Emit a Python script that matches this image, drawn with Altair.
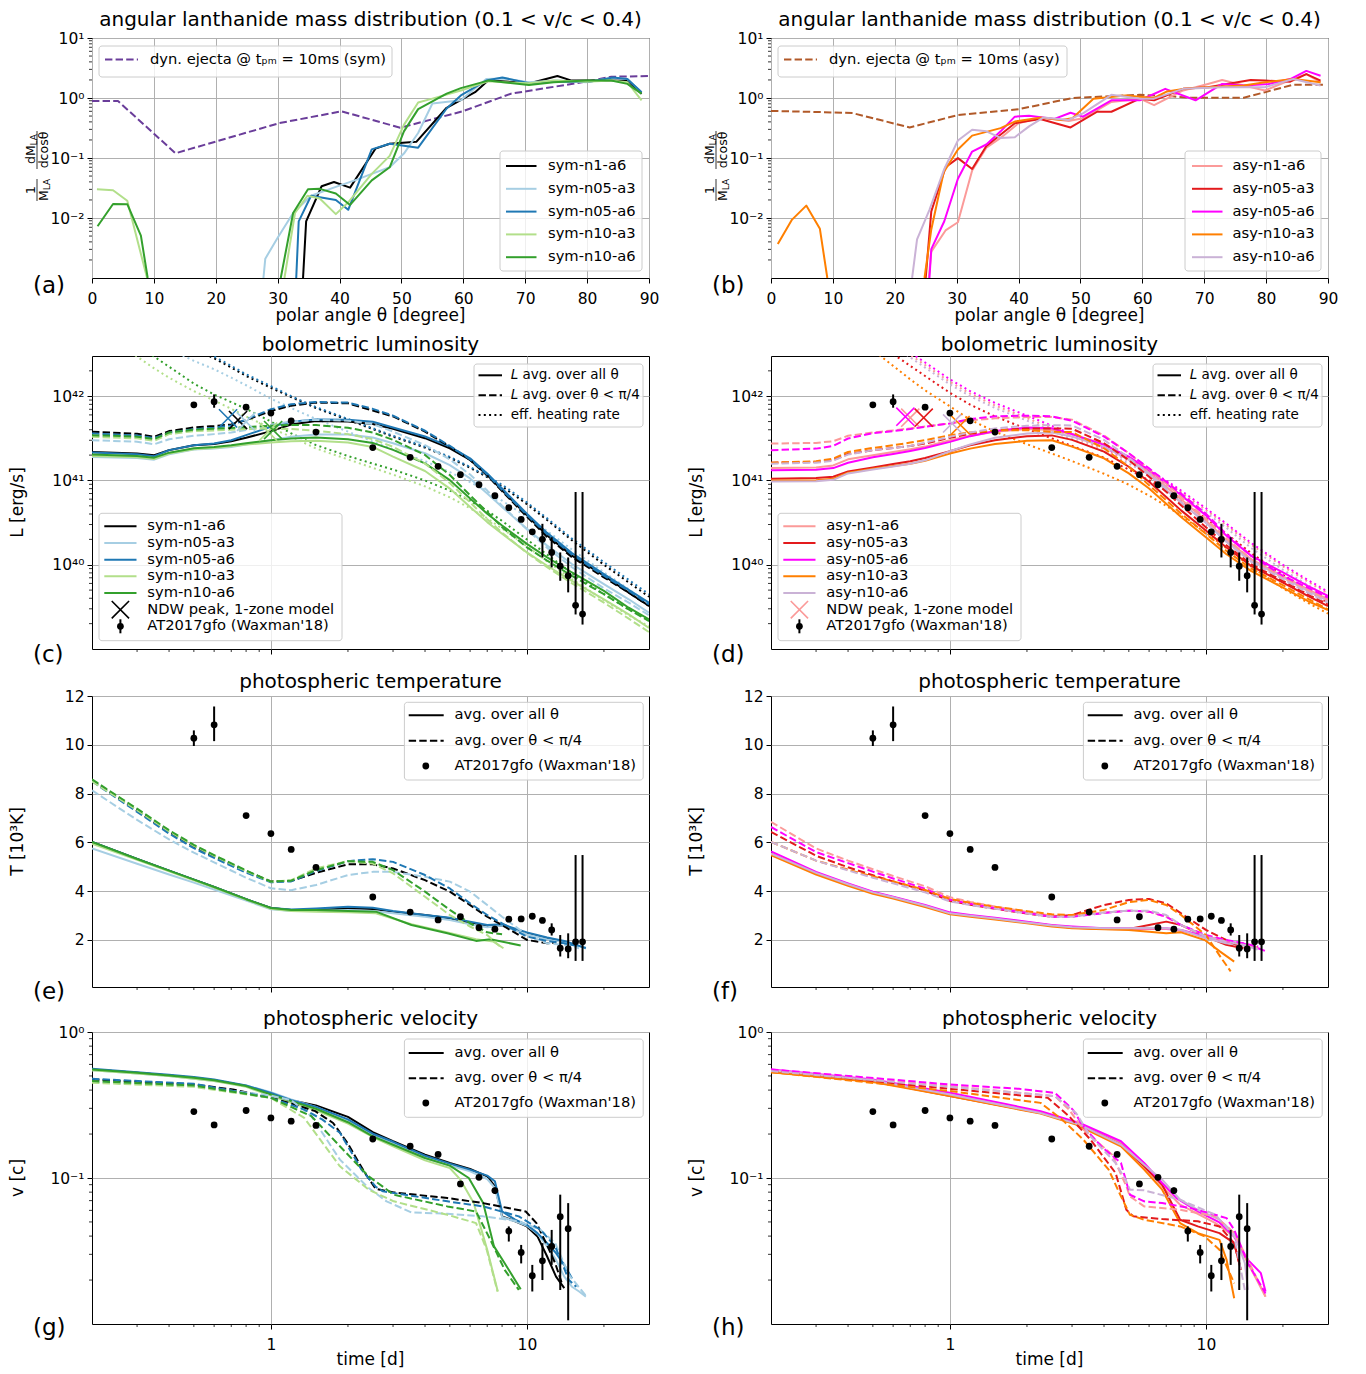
import altair as alt
import pandas as pd

FONT = "DejaVu Sans"
W = 557
HA, HC, HE, HG = 240, 293, 291, 292
DASH = [7.4, 3.2]
DOT = [2.0, 3.3]
XPATH = "M-1,-1L1,1M-1,1L1,-1"
FS_TICK, FS_LEG, FS_LAB, FS_TITLE, FS_LET = 15.5, 14.7, 17, 20, 23

SYM = ["sym-n1-a6", "sym-n05-a3", "sym-n05-a6", "sym-n10-a3", "sym-n10-a6"]
ASY = ["asy-n1-a6", "asy-n05-a3", "asy-n05-a6", "asy-n10-a3", "asy-n10-a6"]
SYM_COL = ["#000000", "#a6cee3", "#1f78b4", "#b2df8a", "#33a02c"]
ASY_COL = ["#fb9a99", "#e31a1c", "#ff00ff", "#ff7f00", "#cab2d6"]
DYN_SYM_COL = "#6a3d9a"
DYN_ASY_COL = "#b15928"

# ---------------- (a) angular distribution, sym ----------------
A_TH_DYN = [0, 4.2, 13.5, 30.2, 40.3, 49.8, 59.9, 67.7, 79.8, 83.9, 90]
A_Y_DYN = [0.89, 0.89, 0.12, 0.38, 0.60, 0.32, 0.60, 1.18, 1.87, 2.26, 2.32]
A_TH_N1A6 = [34.1, 34.6, 37.1, 39.1, 41.7, 45.8, 48.1, 52.4, 57.3, 61.9, 64.0, 70.9, 75.2, 77.5, 86.5, 88.8]
A_Y_N1A6 = [0.001, 0.0088, 0.0338, 0.0398, 0.0321, 0.143, 0.173, 0.186, 0.687, 1.25, 1.95, 1.78, 2.32, 1.95, 1.95, 1.18]
A_TH_N05A3 = [27.7, 28.0, 30.0, 32.5, 35.4, 39.4, 42.9, 45.2, 48.1, 50.4, 52.7, 55.0, 59.6, 63.7, 66.6, 70.6, 75.2, 79.8, 83.9, 86.5, 88.8]
A_Y_N05A3 = [0.001, 0.0021, 0.0047, 0.0121, 0.0235, 0.033, 0.044, 0.0544, 0.070, 0.1185, 0.261, 0.808, 0.916, 2.07, 2.12, 1.83, 1.95, 1.83, 2.15, 2.07, 1.25]
A_TH_N05A6 = [33.0, 33.4, 35.4, 39.4, 41.4, 45.2, 48.1, 52.7, 57.3, 59.6, 63.7, 66.3, 70.6, 74.6, 80.4, 84.2, 86.5, 88.8]
A_Y_N05A6 = [0.001, 0.0088, 0.0235, 0.020, 0.0137, 0.139, 0.173, 0.1485, 0.669, 1.105, 1.95, 2.20, 1.76, 1.87, 1.87, 2.20, 2.07, 1.25]
A_TH_N10A3_L = [0.8, 3.4, 5.7, 8.9]
A_Y_N10A3_L = [0.030, 0.029, 0.0194, 0.001]
A_TH_N10A3 = [31.1, 32.8, 34.8, 36.8, 39.4, 41.5, 45.2, 48.1, 50.4, 52.7, 55.0, 59.6, 64.0, 66.6, 70.6, 74.6, 79.8, 83.9, 86.5, 88.8]
A_Y_N10A3 = [0.001, 0.0121, 0.0235, 0.0212, 0.0116, 0.0187, 0.0544, 0.1085, 0.357, 0.839, 0.975, 1.335, 1.90, 1.83, 1.76, 1.95, 1.87, 1.95, 1.83, 0.916]
A_TH_N10A6_L = [0.9, 3.4, 5.7, 7.9, 9.0]
A_Y_N10A6_L = [0.0073, 0.0171, 0.0170, 0.0051, 0.001]
A_TH_N10A6 = [30.5, 32.5, 34.9, 36.8, 39.4, 41.7, 45.2, 48.1, 50.4, 52.7, 57.3, 59.6, 64.0, 70.6, 74.6, 79.8, 83.9, 86.5, 88.8]
A_Y_N10A6 = [0.001, 0.0121, 0.0302, 0.0306, 0.0256, 0.0165, 0.0423, 0.070, 0.278, 0.653, 1.18, 1.46, 1.95, 1.65, 1.83, 1.95, 1.95, 1.72, 1.18]

# ---------------- (b) angular distribution, asy ----------------
B_TH_DYN = [0, 10.0, 13.2, 22.4, 30.2, 40.0, 48.7, 59.6, 64.8, 67.7, 76.4, 79.8, 84.4, 89.4]
B_Y_DYN = [0.61, 0.575, 0.56, 0.323, 0.52, 0.65, 1.0, 1.13, 1.065, 1.01, 1.01, 1.25, 1.67, 1.67]
B_TH_N1A6 = [25.5, 25.9, 28.2, 30.2, 32.5, 34.8, 37.1, 40.0, 43.5, 48.1, 50.4, 55.0, 59.6, 61.9, 66.6, 70.6, 72.9, 76.4, 79.8, 83.9, 86.5, 88.8]
B_Y_N1A6 = [0.001, 0.00275, 0.0062, 0.0085, 0.0617, 0.1485, 0.216, 0.38, 0.471, 0.415, 0.459, 0.86, 0.975, 0.759, 1.335, 1.715, 1.994, 1.61, 1.335, 1.994, 2.50, 1.83]
B_TH_N05A3 = [25.0, 25.9, 28.2, 30.2, 32.5, 34.8, 39.4, 43.5, 48.4, 52.7, 55.0, 59.6, 61.9, 66.6, 70.6, 77.5, 79.8, 83.9, 86.5, 88.8]
B_Y_N05A3 = [0.001, 0.0129, 0.070, 0.0994, 0.0657, 0.158, 0.38, 0.448, 0.323, 0.59, 0.59, 0.975, 0.916, 1.42, 1.51, 1.99, 1.95, 1.87, 2.50, 1.95]
B_TH_N05A6 = [25.6, 25.9, 28.0, 30.2, 32.5, 34.8, 37.1, 39.4, 41.7, 45.8, 48.4, 50.4, 55.0, 59.6, 63.7, 68.6, 72.9, 76.4, 80.4, 83.9, 86.5, 88.8]
B_Y_N05A6 = [0.001, 0.00303, 0.00883, 0.045, 0.128, 0.168, 0.278, 0.489, 0.508, 0.448, 0.569, 0.489, 0.916, 0.916, 1.42, 0.916, 1.715, 1.61, 1.715, 2.07, 2.83, 2.35]
B_TH_N10A3_L = [1.1, 3.4, 5.7, 7.9, 9.1]
B_Y_N10A3_L = [0.0037, 0.0094, 0.0161, 0.0066, 0.001]
B_TH_N10A3 = [24.8, 25.9, 27.9, 30.2, 32.5, 37.1, 39.4, 43.5, 46.9, 48.7, 52.1, 57.3, 61.9, 64.0, 66.6, 70.6, 76.4, 79.8, 84.4, 88.8]
B_Y_N10A3 = [0.001, 0.00645, 0.058, 0.139, 0.236, 0.315, 0.405, 0.471, 0.431, 0.459, 0.975, 1.105, 1.0, 1.285, 1.42, 1.51, 1.61, 1.83, 2.07, 1.83]
B_TH_N10A6 = [22.8, 23.6, 25.6, 28.0, 30.2, 32.5, 34.8, 37.1, 39.4, 41.7, 44.0, 48.1, 50.4, 55.0, 59.6, 61.9, 66.6, 72.9, 79.8, 84.4, 88.8]
B_Y_N10A6 = [0.001, 0.0044, 0.0137, 0.0657, 0.196, 0.296, 0.278, 0.216, 0.222, 0.336, 0.471, 0.431, 0.554, 1.13, 0.975, 0.975, 1.42, 1.51, 1.51, 2.07, 1.61]

# ---------------- (c),(d) bolometric luminosity: log10 L [erg/s] ----------------
T_L = [0.2, 0.3, 0.35, 0.4, 0.5, 0.6, 0.7, 0.8, 1.0, 1.2, 1.5, 2, 2.5, 3, 4, 5, 6, 7, 8, 10, 12, 15, 20, 25, 30]
C_ALL_N1A6 = [41.339, 41.319, 41.299, 41.36, 41.418, 41.434, 41.466, 41.506, 41.586, 41.665, 41.705, 41.701, 41.669, 41.614, 41.502, 41.382, 41.243, 41.064, 40.884, 40.586, 40.347, 40.108, 39.869, 39.669, 39.51]
C_ALL_N05A3 = [41.279, 41.267, 41.247, 41.31, 41.367, 41.378, 41.398, 41.426, 41.478, 41.518, 41.546, 41.546, 41.51, 41.442, 41.323, 41.183, 41.024, 40.845, 40.685, 40.426, 40.227, 40.008, 39.769, 39.59, 39.43]
C_ALL_N05A6 = [41.331, 41.31, 41.287, 41.36, 41.418, 41.438, 41.478, 41.538, 41.637, 41.697, 41.725, 41.721, 41.697, 41.629, 41.522, 41.402, 41.263, 41.084, 40.904, 40.606, 40.378, 40.139, 39.888, 39.701, 39.55]
C_ALL_N10A3 = [41.291, 41.275, 41.255, 41.32, 41.371, 41.386, 41.406, 41.426, 41.45, 41.466, 41.47, 41.45, 41.398, 41.283, 41.112, 40.904, 40.685, 40.506, 40.367, 40.147, 39.988, 39.809, 39.59, 39.41, 39.25]
C_ALL_N10A6 = [41.307, 41.291, 41.271, 41.33, 41.382, 41.398, 41.418, 41.442, 41.478, 41.498, 41.51, 41.49, 41.446, 41.363, 41.203, 41.004, 40.785, 40.606, 40.466, 40.247, 40.088, 39.908, 39.689, 39.49, 39.35]
C_PI4_N1A6 = [41.578, 41.554, 41.518, 41.586, 41.629, 41.645, 41.665, 41.717, 41.825, 41.888, 41.924, 41.916, 41.83, 41.76, 41.58, 41.40, 41.243, 41.06, 40.873, 40.57, 40.33, 40.09, 39.85, 39.67, 39.51]
C_PI4_N05A3 = [41.478, 41.46, 41.43, 41.49, 41.53, 41.55, 41.57, 41.6, 41.66, 41.7, 41.72, 41.71, 41.67, 41.58, 41.42, 41.25, 41.07, 40.88, 40.7, 40.42, 40.2, 39.97, 39.72, 39.55, 39.4]
C_PI4_N05A6 = [41.558, 41.534, 41.502, 41.566, 41.61, 41.625, 41.653, 41.725, 41.845, 41.904, 41.932, 41.924, 41.85, 41.77, 41.59, 41.41, 41.25, 41.07, 40.89, 40.59, 40.36, 40.12, 39.87, 39.69, 39.53]
C_PI4_N10A3 = [41.518, 41.5, 41.47, 41.55, 41.586, 41.594, 41.602, 41.61, 41.618, 41.61, 41.59, 41.55, 41.49, 41.40, 41.2, 40.97, 40.74, 40.54, 40.38, 40.14, 39.97, 39.78, 39.55, 39.36, 39.2]
C_PI4_N10A6 = [41.538, 41.52, 41.49, 41.57, 41.602, 41.614, 41.624, 41.633, 41.65, 41.658, 41.658, 41.625, 41.57, 41.482, 41.303, 41.064, 40.825, 40.625, 40.446, 40.207, 40.048, 39.869, 39.65, 39.47, 39.33]
C_HEAT_N1A6 = [43.2, 42.9, 42.79, 42.7, 42.56, 42.45, 42.34, 42.24, 42.10, 41.99, 41.86, 41.72, 41.61, 41.52, 41.39, 41.27, 41.15, 41.04, 40.93, 40.72, 40.53, 40.29, 40.0, 39.79, 39.62]
C_HEAT_N05A3 = [43.0, 42.75, 42.64, 42.56, 42.42, 42.32, 42.22, 42.13, 41.97, 41.86, 41.73, 41.58, 41.46, 41.37, 41.23, 41.10, 40.98, 40.87, 40.76, 40.57, 40.40, 40.18, 39.91, 39.71, 39.53]
C_HEAT_N05A6 = [43.22, 42.92, 42.81, 42.72, 42.58, 42.47, 42.36, 42.26, 42.12, 42.0, 41.87, 41.73, 41.62, 41.53, 41.40, 41.28, 41.16, 41.05, 40.95, 40.74, 40.55, 40.31, 40.03, 39.82, 39.65]
C_HEAT_N10A3 = [42.85, 42.47, 42.33, 42.22, 42.06, 41.95, 41.85, 41.76, 41.62, 41.52, 41.38, 41.25, 41.15, 41.07, 40.93, 40.8, 40.67, 40.55, 40.43, 40.22, 40.04, 39.83, 39.58, 39.4, 39.27]
C_HEAT_N10A6 = [43.0, 42.62, 42.47, 42.35, 42.15, 42.02, 41.93, 41.85, 41.70, 41.56, 41.42, 41.29, 41.2, 41.13, 41.0, 40.88, 40.76, 40.64, 40.52, 40.3, 40.12, 39.9, 39.65, 39.47, 39.35]
C_NDW_T = [0.744, 0.80, 0.68, 0.975, 1.02]
C_NDW_L = [41.717, 41.697, 41.737, 41.578, 41.598]

D_ALL_N1A6 = [41.147, 41.155, 41.179, 41.251, 41.299, 41.339, 41.371, 41.402, 41.478, 41.53, 41.578, 41.61, 41.6, 41.55, 41.43, 41.27, 41.096, 40.924, 40.777, 40.526, 40.295, 40.068, 39.861, 39.709, 39.59]
D_ALL_N05A3 = [41.02, 41.028, 41.044, 41.108, 41.155, 41.195, 41.227, 41.267, 41.347, 41.418, 41.478, 41.526, 41.535, 41.482, 41.343, 41.163, 40.984, 40.805, 40.645, 40.406, 40.207, 39.988, 39.789, 39.63, 39.51]
D_ALL_N05A6 = [41.12, 41.127, 41.147, 41.211, 41.275, 41.315, 41.351, 41.386, 41.458, 41.526, 41.586, 41.63, 41.62, 41.55, 41.422, 41.283, 41.124, 40.964, 40.825, 40.586, 40.347, 40.108, 39.908, 39.749, 39.63]
D_ALL_N10A3 = [41.0, 41.004, 41.02, 41.092, 41.139, 41.171, 41.199, 41.235, 41.319, 41.378, 41.434, 41.47, 41.478, 41.402, 41.263, 41.084, 40.904, 40.725, 40.566, 40.327, 40.127, 39.928, 39.729, 39.57, 39.462]
D_ALL_N10A6 = [40.988, 40.992, 41.008, 41.084, 41.131, 41.167, 41.199, 41.239, 41.347, 41.426, 41.506, 41.558, 41.57, 41.522, 41.402, 41.243, 41.064, 40.884, 40.737, 40.498, 40.275, 40.048, 39.849, 39.689, 39.57]
D_PI4_N1A6 = [41.438, 41.446, 41.466, 41.53, 41.57, 41.594, 41.618, 41.641, 41.677, 41.713, 41.737, 41.753, 41.753, 41.721, 41.534, 41.323, 41.135, 40.964, 40.805, 40.546, 40.315, 40.068, 39.849, 39.701, 39.582]
D_PI4_N05A3 = [41.211, 41.219, 41.243, 41.315, 41.359, 41.386, 41.41, 41.438, 41.506, 41.554, 41.594, 41.618, 41.618, 41.614, 41.442, 41.243, 41.044, 40.865, 40.705, 40.446, 40.235, 40.008, 39.809, 39.649, 39.53]
D_PI4_N05A6 = [41.359, 41.378, 41.41, 41.498, 41.562, 41.586, 41.61, 41.637, 41.677, 41.729, 41.761, 41.769, 41.761, 41.709, 41.522, 41.323, 41.143, 40.984, 40.845, 40.606, 40.367, 40.108, 39.869, 39.729, 39.61]
D_PI4_N10A3 = [41.211, 41.227, 41.259, 41.339, 41.386, 41.418, 41.45, 41.478, 41.538, 41.57, 41.594, 41.598, 41.578, 41.574, 41.382, 41.163, 40.944, 40.765, 40.606, 40.367, 40.167, 39.956, 39.757, 39.598, 39.47]
D_PI4_N10A6 = [41.199, 41.211, 41.235, 41.307, 41.359, 41.386, 41.41, 41.45, 41.518, 41.57, 41.618, 41.649, 41.657, 41.653, 41.482, 41.271, 41.084, 40.904, 40.745, 40.498, 40.275, 40.036, 39.829, 39.669, 39.55]
D_HEAT_N1A6 = [43.82, 43.37, 43.19, 43.04, 42.81, 42.63, 42.49, 42.37, 42.17, 42.03, 41.89, 41.74, 41.62, 41.52, 41.37, 41.23, 41.1, 40.98, 40.86, 40.65, 40.47, 40.24, 39.98, 39.8, 39.66]
D_HEAT_N05A3 = [43.7, 43.25, 43.07, 42.92, 42.68, 42.5, 42.36, 42.24, 42.04, 41.9, 41.76, 41.61, 41.5, 41.41, 41.27, 41.13, 41.0, 40.88, 40.76, 40.55, 40.37, 40.14, 39.88, 39.7, 39.55]
D_HEAT_N05A6 = [43.85, 43.4, 43.22, 43.07, 42.84, 42.66, 42.52, 42.4, 42.2, 42.06, 41.92, 41.77, 41.65, 41.55, 41.39, 41.25, 41.12, 41.0, 40.88, 40.67, 40.49, 40.26, 40.0, 39.82, 39.68]
D_HEAT_N10A3 = [43.6, 43.15, 42.97, 42.8, 42.55, 42.36, 42.2, 42.07, 41.88, 41.72, 41.58, 41.43, 41.32, 41.23, 41.08, 40.95, 40.82, 40.70, 40.58, 40.38, 40.20, 39.98, 39.72, 39.55, 39.42]
D_HEAT_N10A6 = [43.8, 43.35, 43.17, 43.02, 42.78, 42.6, 42.46, 42.34, 42.14, 42.0, 41.86, 41.71, 41.59, 41.49, 41.34, 41.2, 41.07, 40.95, 40.83, 40.62, 40.44, 40.2, 39.94, 39.76, 39.62]
D_NDW_T = [0.70, 0.79, 0.67, 1.10, 1.02]
D_NDW_L = [41.745, 41.745, 41.757, 41.657, 41.677]

# ---------------- AT2017gfo (Waxman'18) ----------------
OBS_T = [0.5, 0.6, 0.8, 1.0, 1.2, 1.5, 2.5, 3.5, 4.5, 5.5, 6.5, 7.5, 8.5, 9.5, 10.5, 11.5, 12.5, 13.5, 14.5, 15.5, 16.5]
OBS_L = [7.9e41, 8.6e41, 7.4e41, 6.3e41, 5.1e41, 3.75e41, 2.46e41, 1.88e41, 1.47e41, 1.17e41, 8.9e40, 6.6e40, 4.75e40, 3.45e40, 2.46e40, 2.0e40, 1.4e40, 9.6e39, 7.4e39, 3.3e39, 2.6e39]
OBS_L_LO = [7.6e41, 7.3e41, 7.1e41, 6.1e41, 4.95e41, 3.65e41, 2.4e41, 1.84e41, 1.44e41, 1.14e41, 8.7e40, 6.4e40, 4.6e40, 3.3e40, 2.3e40, 1.22e40, 9.3e39, 6.45e39, 4.7e39, 2.57e39, 1.95e39]
OBS_L_HI = [8.2e41, 1.05e42, 7.7e41, 6.5e41, 5.25e41, 3.85e41, 2.52e41, 1.92e41, 1.5e41, 1.2e41, 9.1e40, 6.8e40, 4.9e40, 3.6e40, 2.6e40, 3.06e40, 2.12e40, 1.4e40, 1.22e40, 7.3e40, 7.3e40]
OBS_TK = [10.27, 10.82, 7.10, 6.36, 5.71, 4.97, 3.76, 3.14, 2.82, 2.95, 2.50, 2.44, 2.85, 2.86, 2.97, 2.80, 2.41, 1.66, 1.63, 1.92, 1.92]
OBS_TK_LO = [9.95, 10.15, 7.0, 6.28, 5.64, 4.9, 3.7, 3.08, 2.76, 2.89, 2.44, 2.38, 2.79, 2.8, 2.91, 2.74, 2.18, 1.32, 1.25, 1.14, 1.14]
OBS_TK_HI = [10.59, 11.57, 7.2, 6.44, 5.78, 5.04, 3.82, 3.2, 2.88, 3.01, 2.56, 2.5, 2.91, 2.92, 3.03, 2.86, 2.68, 2.20, 2.27, 5.48, 5.48]
OBS_TV = [0.5, 0.6, 0.8, 1.0, 1.2, 1.5, 2.5, 3.5, 4.5, 5.5, 6.5, 7.5, 8.5, 9.5, 10.5, 11.5, 12.5, 13.5, 14.5]
OBS_V = [0.285, 0.231, 0.290, 0.258, 0.245, 0.229, 0.185, 0.165, 0.145, 0.091, 0.101, 0.082, 0.0433, 0.0309, 0.0214, 0.0271, 0.034, 0.0543, 0.045]
OBS_V_LO = [0.28, 0.223, 0.285, 0.253, 0.24, 0.224, 0.178, 0.161, 0.142, 0.089, 0.099, 0.078, 0.0367, 0.026, 0.0167, 0.02, 0.0254, 0.0171, 0.0106]
OBS_V_HI = [0.29, 0.24, 0.295, 0.263, 0.25, 0.234, 0.192, 0.169, 0.148, 0.093, 0.103, 0.086, 0.0466, 0.0348, 0.0254, 0.0358, 0.0441, 0.0769, 0.0673]

# ---------------- (e) photospheric temperature, sym [10^3 K] ----------------
E_T_ALL_N1A6 = [0.2, 0.3, 0.4, 0.5, 0.6, 0.8, 1, 1.2, 1.5, 2, 2.5, 3, 4, 5, 6, 7, 8, 10, 12, 14, 15]
E_V_ALL_N1A6 = [6.02, 5.32, 4.84, 4.47, 4.17, 3.67, 3.31, 3.23, 3.23, 3.29, 3.27, 3.16, 3.02, 2.89, 2.68, 2.55, 2.59, 2.27, 2.07, 1.93, 1.82]
E_T_ALL_N05 = [0.2, 0.3, 0.4, 0.5, 0.6, 0.8, 1, 1.2, 1.5, 2, 2.5, 3, 4, 5, 6, 7, 8, 10, 12, 14, 15, 17]
E_V_ALL_N05A3 = [5.75, 5.12, 4.68, 4.35, 4.07, 3.61, 3.26, 3.19, 3.19, 3.23, 3.19, 3.09, 2.95, 2.82, 2.64, 2.52, 2.59, 2.23, 2.03, 1.90, 1.82, 1.69]
E_V_ALL_N05A6 = [6.02, 5.32, 4.84, 4.47, 4.17, 3.67, 3.31, 3.25, 3.29, 3.36, 3.32, 3.19, 3.02, 2.91, 2.75, 2.61, 2.64, 2.31, 2.10, 1.96, 1.86, 1.66]
E_T_ALL_N10A3 = [0.2, 0.3, 0.4, 0.5, 0.6, 0.8, 1, 1.2, 1.5, 2, 2.57, 3.54, 4.89, 6.33, 7.4, 8.1]
E_V_ALL_N10A3 = [5.95, 5.28, 4.81, 4.44, 4.15, 3.65, 3.28, 3.19, 3.16, 3.13, 3.09, 2.64, 2.31, 2.03, 1.93, 1.66]
E_T_ALL_N10A6 = [0.2, 0.3, 0.4, 0.5, 0.6, 0.8, 1, 1.2, 1.5, 2, 2.57, 3.54, 4.89, 6.33, 7.2, 9.46]
E_V_ALL_N10A6 = [6.02, 5.32, 4.84, 4.47, 4.17, 3.67, 3.31, 3.23, 3.23, 3.19, 3.16, 2.61, 2.27, 1.96, 2.03, 1.77]
E_T_PI4_N1A6 = [0.2, 0.3, 0.4, 0.5, 0.6, 0.8, 1, 1.2, 1.5, 2, 2.5, 3, 4, 5, 6, 7, 8, 10, 12, 13]
E_V_PI4_N1A6 = [8.54, 7.30, 6.42, 5.82, 5.42, 4.82, 4.40, 4.42, 4.75, 5.10, 5.10, 4.93, 4.45, 3.98, 3.43, 2.95, 2.61, 2.00, 1.86, 1.90]
E_T_PI4_N05 = [0.2, 0.3, 0.4, 0.5, 0.6, 0.8, 1, 1.2, 1.5, 2, 2.5, 3, 4, 5, 6, 7, 8, 10, 12, 14, 16]
E_V_PI4_N05A3 = [8.13, 6.92, 6.12, 5.58, 5.18, 4.55, 4.12, 4.04, 4.25, 4.66, 4.79, 4.79, 4.59, 4.39, 3.98, 3.43, 2.95, 2.20, 1.86, 1.80, 1.66]
E_V_PI4_N05A6 = [8.50, 7.25, 6.36, 5.76, 5.36, 4.76, 4.36, 4.40, 4.82, 5.23, 5.31, 5.20, 4.66, 4.11, 3.50, 3.02, 2.68, 2.14, 1.96, 1.86, 1.73]
E_T_PI4_N10 = [0.2, 0.3, 0.4, 0.5, 0.6, 0.8, 1, 1.2, 1.5, 2, 2.5, 3, 4, 5, 6, 7, 8]
E_V_PI4_N10A3 = [8.50, 7.32, 6.45, 5.86, 5.45, 4.82, 4.39, 4.45, 4.93, 5.23, 5.13, 4.73, 3.77, 3.02, 2.55, 2.20, 1.66]
E_V_PI4_N10A6 = [8.58, 7.38, 6.50, 5.90, 5.48, 4.85, 4.39, 4.43, 4.86, 5.23, 5.20, 4.86, 3.98, 3.23, 2.68, 2.31, 2.23]

# ---------------- (f) photospheric temperature, asy ----------------
F_T_22 = [0.2, 0.3, 0.4, 0.5, 0.6, 0.8, 1, 1.2, 1.5, 2, 2.5, 3, 4, 5, 6, 7, 8, 10, 12, 14, 16, 17]
F_T_21 = [0.2, 0.3, 0.4, 0.5, 0.6, 0.8, 1, 1.2, 1.5, 2, 2.5, 3, 4, 5, 6, 7, 8, 10, 12, 14, 16]
F_T_20 = [0.2, 0.3, 0.4, 0.5, 0.6, 0.8, 1, 1.2, 1.5, 2, 2.5, 3, 4, 5, 6, 7, 8, 10, 12, 14]
F_T_ALL_N10A3 = [0.2, 0.3, 0.4, 0.5, 0.6, 0.8, 1, 1.2, 1.5, 2, 2.5, 3, 4, 5, 6, 7, 8, 9.9, 11.3, 12.9]
F_T_PI4_N10A3 = [0.2, 0.3, 0.4, 0.5, 0.6, 0.8, 1, 1.2, 1.5, 2, 2.5, 3, 4, 5, 6, 7, 8, 10, 11.5, 12.5]
F_V_ALL_N1A6 = [5.50, 4.73, 4.25, 3.93, 3.73, 3.39, 3.09, 2.99, 2.88, 2.72, 2.59, 2.52, 2.45, 2.44, 2.45, 2.45, 2.38, 2.10, 1.90, 1.82, 1.66]
F_V_ALL_N05A3 = [5.54, 4.75, 4.28, 3.95, 3.75, 3.40, 3.09, 2.99, 2.88, 2.71, 2.59, 2.50, 2.45, 2.45, 2.61, 2.75, 2.61, 2.14, 1.80, 1.66]
F_V_ALL_N05A6 = [5.63, 4.79, 4.32, 3.98, 3.77, 3.43, 3.13, 3.02, 2.91, 2.75, 2.61, 2.55, 2.48, 2.48, 2.48, 2.48, 2.41, 2.14, 1.93, 1.86, 1.66, 1.55]
F_V_ALL_N10A3 = [5.47, 4.68, 4.22, 3.89, 3.70, 3.35, 3.05, 2.95, 2.84, 2.68, 2.55, 2.48, 2.44, 2.41, 2.34, 2.27, 2.31, 2.00, 1.54, 1.11]
F_V_ALL_N10A6 = [5.54, 4.75, 4.28, 3.95, 3.75, 3.40, 3.09, 2.99, 2.88, 2.71, 2.59, 2.52, 2.48, 2.48, 2.50, 2.48, 2.41, 2.07, 1.86, 1.77, 1.64]
F_V_PI4_N1A6 = [6.84, 5.75, 5.25, 4.90, 4.62, 4.20, 3.75, 3.56, 3.37, 3.15, 2.99, 2.99, 3.12, 3.20, 3.16, 2.95, 2.61, 2.18, 1.96, 1.82, 1.69]
F_V_PI4_N05A3 = [6.43, 5.45, 4.98, 4.65, 4.40, 4.02, 3.60, 3.44, 3.28, 3.08, 2.95, 3.02, 3.43, 3.64, 3.68, 3.50, 3.09, 2.41, 2.00, 1.66]
F_V_PI4_N05A6 = [6.63, 5.60, 5.15, 4.80, 4.52, 4.10, 3.65, 3.48, 3.30, 3.10, 2.95, 2.95, 3.10, 3.20, 3.16, 2.95, 2.61, 2.20, 2.00, 1.86, 1.73]
F_V_PI4_N10A3 = [6.02, 5.25, 4.88, 4.60, 4.40, 4.05, 3.68, 3.52, 3.36, 3.18, 3.05, 3.02, 3.23, 3.55, 3.64, 3.43, 3.02, 2.20, 1.25, 0.71]
F_V_PI4_N10A6 = [6.02, 5.25, 4.85, 4.55, 4.32, 3.95, 3.58, 3.43, 3.28, 3.08, 2.95, 2.95, 3.12, 3.20, 3.20, 3.02, 2.61, 2.14, 1.93, 1.80, 1.60]

# ---------------- (g) photospheric velocity, sym [c] ----------------
G_T_ALL_N1A6 = [0.2, 0.3, 0.4, 0.5, 0.6, 0.8, 1, 1.2, 1.5, 2, 2.5, 3, 4, 5, 6, 7, 7.5, 8, 9, 10, 11, 12, 13, 14]
G_V_ALL_N1A6 = [0.554, 0.526, 0.504, 0.486, 0.468, 0.426, 0.379, 0.341, 0.314, 0.262, 0.206, 0.1785, 0.1445, 0.1267, 0.1153, 0.1026, 0.0877, 0.0546, 0.0505, 0.0466, 0.0398, 0.029, 0.0211, 0.0176]
G_T_ALL_N05A6 = [0.2, 0.3, 0.4, 0.5, 0.6, 0.8, 1, 1.2, 1.5, 2, 2.5, 3, 4, 5, 6, 7, 7.5, 8, 9, 10, 11, 12, 13, 14, 15]
G_V_ALL_N05A6 = [0.560, 0.531, 0.509, 0.491, 0.473, 0.430, 0.383, 0.341, 0.307, 0.252, 0.201, 0.177, 0.142, 0.1254, 0.1141, 0.1038, 0.0949, 0.0590, 0.0518, 0.0478, 0.0419, 0.0358, 0.0306, 0.0254, 0.0206]
G_T_ALL_N05A3 = [0.2, 0.3, 0.4, 0.5, 0.6, 0.8, 1, 1.2, 1.5, 2, 2.5, 3, 4, 5, 6, 7, 7.5, 8, 9, 10, 11, 12, 13, 14, 15, 16, 17]
G_V_ALL_N05A3 = [0.548, 0.520, 0.499, 0.478, 0.461, 0.430, 0.387, 0.345, 0.307, 0.249, 0.195, 0.172, 0.137, 0.1215, 0.1111, 0.0984, 0.0854, 0.0540, 0.0505, 0.0471, 0.0415, 0.0340, 0.0275, 0.0211, 0.0180, 0.0167, 0.0154]
G_T_ALL_N10A6 = [0.2, 0.3, 0.4, 0.5, 0.6, 0.8, 1, 1.2, 1.5, 2, 2.5, 3, 4, 5, 5.93, 6.75, 7.44, 8.19, 9.46]
G_V_ALL_N10A6 = [0.554, 0.526, 0.504, 0.486, 0.468, 0.426, 0.373, 0.336, 0.298, 0.241, 0.193, 0.169, 0.137, 0.1215, 0.100, 0.0673, 0.0340, 0.0261, 0.0173]
G_T_ALL_N10A3 = [0.2, 0.3, 0.4, 0.5, 0.6, 0.8, 1, 1.2, 1.5, 2, 2.5, 3, 4, 5, 5.5, 6.2, 7.0, 7.7]
G_V_ALL_N10A3 = [0.548, 0.520, 0.499, 0.478, 0.461, 0.421, 0.367, 0.327, 0.291, 0.236, 0.191, 0.165, 0.132, 0.1171, 0.0974, 0.0673, 0.0322, 0.0167]
G_T_PI4_N1A6 = [0.2, 0.5, 0.71, 1, 1.2, 1.49, 1.75, 1.99, 2.33, 2.57, 3.02, 4.89, 6.75, 9.9, 10.9, 12.05, 12.9, 13.7]
G_V_PI4_N1A6 = [0.473, 0.437, 0.404, 0.354, 0.324, 0.287, 0.238, 0.174, 0.1082, 0.0841, 0.0797, 0.0729, 0.0673, 0.0590, 0.0491, 0.0340, 0.0261, 0.0190]
G_T_PI4_N05A6 = [0.2, 0.5, 1, 1.35, 1.585, 1.86, 2.26, 2.57, 2.74, 4.89, 6.75, 9.3, 11.3, 12.9, 14.6, 15.6]
G_V_PI4_N05A6 = [0.478, 0.442, 0.354, 0.294, 0.252, 0.204, 0.1141, 0.0868, 0.0810, 0.0692, 0.0639, 0.0546, 0.0442, 0.0340, 0.0200, 0.0180]
G_T_PI4_N05A3 = [0.2, 0.5, 1, 1.2, 1.44, 1.86, 2.41, 2.83, 3.54, 4.89, 6.75, 9.3, 11.3, 12.9, 14.6, 17.1]
G_V_PI4_N05A3 = [0.454, 0.426, 0.367, 0.341, 0.265, 0.1336, 0.0854, 0.0692, 0.0581, 0.0569, 0.0546, 0.0505, 0.0442, 0.0358, 0.0217, 0.0154]
G_T_PI4_N10A6 = [0.2, 0.5, 1, 1.44, 1.86, 2.41, 3.02, 4.89, 6.33, 7.2, 8.19, 9.3]
G_V_PI4_N10A6 = [0.461, 0.430, 0.354, 0.265, 0.165, 0.1026, 0.0768, 0.0639, 0.0590, 0.0377, 0.0235, 0.0171]
G_T_PI4_N10A3 = [0.2, 0.5, 1, 1.35, 1.86, 2.41, 3.02, 4.89, 6.33, 6.97, 7.68]
G_V_PI4_N10A3 = [0.449, 0.421, 0.354, 0.258, 0.1202, 0.0832, 0.0692, 0.0560, 0.0491, 0.0322, 0.0167]

# ---------------- (h) photospheric velocity, asy ----------------
H_T_ALL_N1A6 = [0.2, 0.5, 1, 2.26, 3.21, 4.66, 6.75, 7.93, 10.9, 12.9, 14.6, 17.1]
H_V_ALL_N1A6 = [0.545, 0.466, 0.373, 0.283, 0.235, 0.174, 0.0877, 0.0656, 0.0491, 0.0398, 0.0261, 0.0154]
H_T_ALL_N05A3 = [0.2, 0.5, 1, 2.26, 3.11, 4.66, 5.74, 6.75, 7.93, 9.3, 11.3, 12.9, 13.7]
H_V_ALL_N05A3 = [0.540, 0.461, 0.364, 0.279, 0.238, 0.169, 0.1202, 0.0900, 0.0518, 0.0466, 0.0419, 0.0358, 0.0235]
H_T_ALL_N05A6 = [0.2, 0.5, 1, 2.26, 3.21, 4.66, 5.74, 6.75, 7.68, 9.3, 11.3, 12.9, 14.6, 16.4, 17.1]
H_V_ALL_N05A6 = [0.554, 0.473, 0.383, 0.287, 0.238, 0.1785, 0.1267, 0.0924, 0.0729, 0.0590, 0.0496, 0.0398, 0.0275, 0.0223, 0.0167]
H_T_ALL_N10A3 = [0.2, 0.5, 1, 2.26, 3.11, 4.66, 5.74, 6.75, 7.93, 9.3, 11.3, 12.05, 12.9]
H_V_ALL_N10A3 = [0.531, 0.454, 0.364, 0.276, 0.232, 0.165, 0.1141, 0.0832, 0.0491, 0.0419, 0.0377, 0.0275, 0.0150]
H_T_ALL_N10A6 = [0.2, 0.5, 1, 2.26, 3.21, 4.66, 5.74, 6.75, 7.93, 9.3, 11.3, 12.9, 14.2, 14.6]
H_V_ALL_N10A6 = [0.548, 0.468, 0.373, 0.279, 0.232, 0.169, 0.1234, 0.0974, 0.0710, 0.0606, 0.0518, 0.0419, 0.0261, 0.0171]
H_T_PI4_N1A6 = [0.2, 1, 2.57, 2.92, 3.32, 4.30, 4.89, 5.05, 5.74, 7.93, 10.9, 12.9, 14.6, 17.1]
H_V_PI4_N1A6 = [0.548, 0.426, 0.364, 0.294, 0.2147, 0.1445, 0.0877, 0.0748, 0.0639, 0.0606, 0.0546, 0.0419, 0.0275, 0.0154]
H_T_PI4_N05A3 = [0.2, 1, 2.41, 2.92, 3.54, 4.44, 4.89, 5.21, 6.75, 9.3, 11.3, 12.9, 13.7]
H_V_PI4_N05A3 = [0.540, 0.408, 0.354, 0.265, 0.1833, 0.1082, 0.0606, 0.0546, 0.0523, 0.0505, 0.0466, 0.0358, 0.0235]
H_T_PI4_N05A6 = [0.2, 1, 1.86, 2.57, 3.02, 3.32, 3.9, 4.66, 5.05, 5.74, 6.75, 8.74, 10.3, 12.05, 12.9, 14.6, 17.1]
H_V_PI4_N05A6 = [0.554, 0.437, 0.408, 0.383, 0.294, 0.226, 0.165, 0.1267, 0.0768, 0.0692, 0.0673, 0.0622, 0.0575, 0.0531, 0.0442, 0.0261, 0.0162]
H_T_PI4_N10A3 = [0.2, 1, 2.26, 2.74, 3.32, 4.17, 4.66, 5.05, 5.74, 7.93, 9.9, 11.3, 12.9]
H_V_PI4_N10A3 = [0.531, 0.394, 0.327, 0.252, 0.1833, 0.1141, 0.0748, 0.0560, 0.0518, 0.0466, 0.0398, 0.0322, 0.0190]
H_T_PI4_N10A6 = [0.2, 1, 2.57, 3.11, 3.54, 4.44, 4.89, 5.05, 5.74, 7.93, 10.9, 12.9, 14.2]
H_V_PI4_N10A6 = [0.540, 0.421, 0.364, 0.279, 0.193, 0.1267, 0.0949, 0.0832, 0.0823, 0.0710, 0.0560, 0.0398, 0.0171]

# tick positions
ANG_TICKS = [0, 10, 20, 30, 40, 50, 60, 70, 80, 90]
FRAC_TICKS = [0.01, 0.1, 1, 10]
FRAC_MINOR = [2e-3, 3e-3, 4e-3, 5e-3, 6e-3, 7e-3, 8e-3, 9e-3, 0.02, 0.03, 0.04, 0.05, 0.06, 0.07, 0.08, 0.09,
              0.2, 0.3, 0.4, 0.5, 0.6, 0.7, 0.8, 0.9, 2, 3, 4, 5, 6, 7, 8, 9]
TIME_TICKS = [1, 10]
TIME_MINOR = [0.3, 0.4, 0.5, 0.6, 0.7, 0.8, 0.9, 2, 3, 4, 5, 6, 7, 8, 9, 20]
L_TICKS = [1e40, 1e41, 1e42]
L_MINOR = [2e39, 3e39, 4e39, 5e39, 6e39, 7e39, 8e39, 9e39, 2e40, 3e40, 4e40, 5e40, 6e40, 7e40, 8e40, 9e40,
           2e41, 3e41, 4e41, 5e41, 6e41, 7e41, 8e41, 9e41, 2e42]
T_TICKS = [2, 4, 6, 8, 10, 12]
V_TICKS = [0.1, 1]
V_MINOR = [0.02, 0.03, 0.04, 0.05, 0.06, 0.07, 0.08, 0.09, 0.2, 0.3, 0.4, 0.5, 0.6, 0.7, 0.8, 0.9]

# ---------------- helpers ----------------
ONE = pd.DataFrame({"k": [0]})


def mkaxis(values, labels=True, expr=None, pad=3):
    kw = dict(values=values, grid=True, gridColor="#b0b0b0", gridWidth=1, gridOpacity=1, domain=False,
              ticks=True, tickColor="black", tickSize=5, tickWidth=1, labels=labels, labelFont=FONT,
              labelFontSize=FS_TICK, labelColor="black", labelPadding=pad, title=None, labelFlush=False,
              labelOverlap=False, labelBound=False)
    if expr:
        kw["labelExpr"] = expr
    return alt.Axis(**kw)


SC_ANG = alt.Scale(domain=[0, 90], nice=False, zero=False)
SC_FRAC = alt.Scale(type="log", domain=[1e-3, 10], nice=False)
SC_T = alt.Scale(type="log", domain=[0.2, 30], nice=False)
SC_L = alt.Scale(type="log", domain=[1e39, 3e42], nice=False)
SC_TK = alt.Scale(domain=[0.07, 12], nice=False, zero=False)
SC_V = alt.Scale(type="log", domain=[0.01, 1], nice=False)

AX_ANG = mkaxis(ANG_TICKS, pad=8)
AX_FRAC = mkaxis(FRAC_TICKS, expr="datum.value > 5 ? '10¹' : datum.value > 0.5 ? '10⁰' : datum.value > 0.05 ? '10⁻¹' : '10⁻²'")
AX_T_NOLAB = mkaxis(TIME_TICKS, labels=False)
AX_T_LAB = mkaxis(TIME_TICKS, expr="datum.value < 5 ? '1' : '10'", pad=8)
AX_L = mkaxis(L_TICKS, expr="datum.value > 5e41 ? '10⁴²' : datum.value > 5e40 ? '10⁴¹' : '10⁴⁰'")
AX_TK = mkaxis(T_TICKS)
AX_V = mkaxis(V_TICKS, expr="datum.value > 0.5 ? '10⁰' : '10⁻¹'")


def enc(kind, sc, ax_):
    def f(name):
        if kind == "x":
            return alt.X(name + ":Q", scale=sc, axis=ax_)
        return alt.Y(name + ":Q", scale=sc, axis=ax_)
    return f


def long_table(entries, log=False):
    rows = []
    for key, col, xs, ys in entries:
        assert len(xs) == len(ys), key
        for i, (a, b) in enumerate(zip(xs, ys)):
            rows.append({"x": a, "y": (10 ** b) if log else b, "seg": key, "col": col, "i": i})
    return pd.DataFrame(rows)


def line_layer(df, X, Y, dash=None, width=2.0):
    kw = dict(clip=True, strokeWidth=width, strokeCap="butt", strokeJoin="round")
    if dash:
        kw["strokeDash"] = dash
    return alt.Chart(df).mark_line(**kw).encode(
        x=X("x"), y=Y("y"), color=alt.Color("col:N", scale=None), detail="seg:N", order="i:Q")


def obs_layers(X, Y, t, v, lo, hi):
    df = pd.DataFrame({"x": t, "y": v, "lo": lo, "hi": hi})
    bars = alt.Chart(df).mark_rule(color="black", strokeWidth=2, clip=True).encode(
        x=X("x"), y=Y("lo"), y2=alt.Y2("hi"))
    pts = alt.Chart(df).mark_circle(color="black", size=46, opacity=1, clip=True).encode(x=X("x"), y=Y("y"))
    return [bars, pts]


def xminor(X, vals, h):
    return alt.Chart(pd.DataFrame({"m": vals})).mark_rule(color="black", strokeWidth=0.8).encode(
        x=X("m"), y=alt.value(h), y2=alt.value(h + 3))


def yminor(Y, vals):
    return alt.Chart(pd.DataFrame({"m": vals})).mark_rule(color="black", strokeWidth=0.8).encode(
        y=Y("m"), x=alt.value(-3), x2=alt.value(0))


def txt(s, x, y, size=FS_LEG, align="left", angle=0, italic=False):
    return alt.Chart(ONE).mark_text(text=s, font=FONT, fontSize=size, align=align, baseline="middle",
                                    angle=angle, color="black",
                                    fontStyle="italic" if italic else "normal").encode(
        x=alt.value(x), y=alt.value(y))


def box(x1, y1, x2, y2):
    return alt.Chart(ONE).mark_rect(fill="white", fillOpacity=0.8, stroke="#cccccc", strokeWidth=1,
                                    cornerRadius=3).encode(
        x=alt.value(x1), x2=alt.value(x2), y=alt.value(y1), y2=alt.value(y2))


def hseg(x1, x2, y, color, dash=None, width=2.0):
    kw = dict(color=color, strokeWidth=width, strokeCap="butt")
    if dash:
        kw["strokeDash"] = dash
    return alt.Chart(ONE).mark_rule(**kw).encode(x=alt.value(x1), x2=alt.value(x2), y=alt.value(y))


def vseg(x, y1, y2, width=1.0):
    return alt.Chart(ONE).mark_rule(color="black", strokeWidth=width).encode(
        x=alt.value(x), y=alt.value(y1), y2=alt.value(y2))


def spacer(top, bottom):
    # invisible diagonal that fixes each cell's layout extent
    return alt.Chart(ONE).mark_rule(color="white", opacity=0, strokeWidth=1).encode(
        x=alt.value(-83.5), x2=alt.value(W + 9.5), y=alt.value(-top), y2=alt.value(bottom))


def dot(x, y, size=46):
    return alt.Chart(ONE).mark_circle(color="black", size=size, opacity=1).encode(x=alt.value(x), y=alt.value(y))


def xmark(x, y, color, size=320):
    return alt.Chart(ONE).mark_point(shape=XPATH, filled=False, color=color, size=size, strokeWidth=1.6,
                                     opacity=1).encode(x=alt.value(x), y=alt.value(y))


def frac_label():
    return [
        txt("1", -61, 152, size=12.5, align="center", angle=270),
        vseg(-55, 141, 163, 0.8),
        txt("M", -48, 157.6, size=12.5, align="center", angle=270),
        txt("LA", -45, 146.6, size=9, align="center", angle=270),
        txt("dM", -61, 116.6, size=12.5, align="center", angle=270),
        txt("LA", -58, 101.7, size=9, align="center", angle=270),
        vseg(-55, 93, 131, 0.8),
        txt("dcosθ", -48, 112, size=12.5, align="center", angle=270),
    ]


def title_txt(s, yc):
    return txt(s, W / 2, yc, size=FS_TITLE, align="center")


# ---------------- panels ----------------
def panel_angle(models, cols, curves, dyn, dyn_col, dyn_label, letter, b1r, b2l, l2x, t2x):
    X = enc("x", SC_ANG, AX_ANG)
    Y = enc("y", SC_FRAC, AX_FRAC)
    df = long_table(curves)
    dyn_df = long_table([("dyn", dyn_col, dyn[0], dyn[1])])
    layers = [spacer(29, HA + 52), yminor(Y, FRAC_MINOR), line_layer(dyn_df, X, Y, dash=DASH), line_layer(df, X, Y)]
    layers += [box(7, 8, b1r, 39), hseg(13, 46, 21.5, dyn_col, dash=DASH), txt(dyn_label, 58, 21.5)]
    layers.append(box(b2l, 113, 550, 233))
    for k, (m, c) in enumerate(zip(models, cols)):
        yy = 128 + 22.8 * k
        layers += [hseg(l2x, l2x + 30.5, yy, c), txt(m, t2x, yy)]
    layers += frac_label()
    layers += [txt("polar angle θ [degree]", W / 2, HA + 38, size=FS_LAB, align="center"),
               txt(letter, -59, HA + 8, size=FS_LET),
               title_txt("angular lanthanide mass distribution (0.1 < v/c < 0.4)", -18)]
    return alt.layer(*layers).properties(width=W, height=HA)


def panel_L(models, cols, solid, dashed, heat, ndw_t, ndw_l, letter):
    X = enc("x", SC_T, AX_T_NOLAB)
    Y = enc("y", SC_L, AX_L)
    ds = long_table([(m + "s", c, T_L, v) for m, c, v in zip(models, cols, solid)], log=True)
    dd = long_table([(m + "d", c, T_L, v) for m, c, v in zip(models, cols, dashed)], log=True)
    dh = long_table([(m + "h", c, T_L, v) for m, c, v in zip(models, cols, heat)], log=True)
    dx = pd.DataFrame({"x": ndw_t, "y": [10 ** v for v in ndw_l], "col": cols})
    xm = alt.Chart(dx).mark_point(shape=XPATH, filled=False, size=330, strokeWidth=1.6, opacity=1,
                                  clip=True).encode(x=X("x"), y=Y("y"), color=alt.Color("col:N", scale=None))
    layers = [spacer(24.5, HC + 18), xminor(X, TIME_MINOR, HC), yminor(Y, L_MINOR),
              line_layer(dh, X, Y, dash=DOT), line_layer(ds, X, Y), line_layer(dd, X, Y, dash=DASH), xm]
    layers += obs_layers(X, Y, OBS_T, OBS_L, OBS_L_LO, OBS_L_HI)
    layers += [box(382, 8, 551, 71),
               hseg(386.5, 410, 19.3, "black"), txt("L", 418.7, 19.3, size=13.5, italic=True),
               txt("avg. over all θ", 430.5, 19.3, size=13.5),
               hseg(386.5, 410, 39.3, "black", dash=DASH), txt("L", 418.7, 39.3, size=13.5, italic=True),
               txt("avg. over θ < π/4", 430.5, 39.3, size=13.5),
               hseg(386.5, 410, 59, "black", dash=DOT), txt("eff. heating rate", 418.7, 59, size=13.5)]
    layers.append(box(7, 157.3, 250, 284.7))
    for k, (m, c) in enumerate(zip(models, cols)):
        yy = 170.3 + 16.67 * k
        layers += [hseg(12.3, 44.5, yy, c), txt(m, 55.3, yy)]
    layers += [xmark(28.4, 253.7, cols[0], size=300), txt("NDW peak, 1-zone model", 55.3, 253.7),
               vseg(28.4, 263.3, 277.3, 2), dot(28.4, 270.3), txt("AT2017gfo (Waxman'18)", 55.3, 270.3)]
    layers += [txt("L [erg/s]", -74, HC / 2, size=FS_LAB, align="center", angle=270),
               txt(letter, -59, HC + 6, size=FS_LET), title_txt("bolometric luminosity", -11)]
    return alt.layer(*layers).properties(width=W, height=HC)


def small_legend(y0, y1, ys):
    return [box(312.4, y0, 551.2, y1),
            hseg(316.7, 351.7, ys[0], "black"), txt("avg. over all θ", 362.5, ys[0]),
            hseg(316.7, 351.7, ys[1], "black", dash=DASH), txt("avg. over θ < π/4", 362.5, ys[1]),
            dot(333.8, ys[2]), txt("AT2017gfo (Waxman'18)", 362.5, ys[2])]


def panel_T(cols, solid, dashed, letter):
    X = enc("x", SC_T, AX_T_NOLAB)
    Y = enc("y", SC_TK, AX_TK)
    ds = long_table([("s%d" % k, c, t, v) for k, (c, (t, v)) in enumerate(zip(cols, solid))])
    dd = long_table([("d%d" % k, c, t, v) for k, (c, (t, v)) in enumerate(zip(cols, dashed))])
    layers = [spacer(27.5, HE + 17), xminor(X, TIME_MINOR, HE), line_layer(ds, X, Y), line_layer(dd, X, Y, dash=DASH)]
    layers += obs_layers(X, Y, OBS_T, OBS_TK, OBS_TK_LO, OBS_TK_HI)
    layers += small_legend(6.3, 84, [19.3, 44.7, 70])
    layers += [txt("T [10³K]", -74, HE / 2, size=FS_LAB, align="center", angle=270),
               txt(letter, -59, HE + 5, size=FS_LET), title_txt("photospheric temperature", -14)]
    return alt.layer(*layers).properties(width=W, height=HE)


def panel_V(cols, solid, dashed, letter):
    X = enc("x", SC_T, AX_T_LAB)
    Y = enc("y", SC_V, AX_V)
    ds = long_table([("s%d" % k, c, t, v) for k, (c, (t, v)) in enumerate(zip(cols, solid))])
    dd = long_table([("d%d" % k, c, t, v) for k, (c, (t, v)) in enumerate(zip(cols, dashed))])
    layers = [spacer(26.5, HG + 46), xminor(X, TIME_MINOR, HG), yminor(Y, V_MINOR), line_layer(ds, X, Y),
              line_layer(dd, X, Y, dash=DASH)]
    layers += obs_layers(X, Y, OBS_TV, OBS_V, OBS_V_LO, OBS_V_HI)
    layers += small_legend(7, 85.3, [21, 46.3, 71])
    layers += [txt("v [c]", -74, HG / 2, size=FS_LAB, align="center", angle=270),
               txt("time [d]", W / 2, HG + 36, size=FS_LAB, align="center"),
               txt(letter, -59, HG + 4, size=FS_LET), title_txt("photospheric velocity", -13)]
    return alt.layer(*layers).properties(width=W, height=HG)


pa = panel_angle(SYM, SYM_COL,
                 [("n1a6", SYM_COL[0], A_TH_N1A6, A_Y_N1A6),
                  ("n05a3", SYM_COL[1], A_TH_N05A3, A_Y_N05A3),
                  ("n05a6", SYM_COL[2], A_TH_N05A6, A_Y_N05A6),
                  ("n10a3L", SYM_COL[3], A_TH_N10A3_L, A_Y_N10A3_L),
                  ("n10a3", SYM_COL[3], A_TH_N10A3, A_Y_N10A3),
                  ("n10a6L", SYM_COL[4], A_TH_N10A6_L, A_Y_N10A6_L),
                  ("n10a6", SYM_COL[4], A_TH_N10A6, A_Y_N10A6)],
                 (A_TH_DYN, A_Y_DYN), DYN_SYM_COL, "dyn. ejecta @ tₚₘ = 10ms (sym)", "(a)", 300, 408, 414, 456)
pb = panel_angle(ASY, ASY_COL,
                 [("n1a6", ASY_COL[0], B_TH_N1A6, B_Y_N1A6),
                  ("n05a3", ASY_COL[1], B_TH_N05A3, B_Y_N05A3),
                  ("n05a6", ASY_COL[2], B_TH_N05A6, B_Y_N05A6),
                  ("n10a3L", ASY_COL[3], B_TH_N10A3_L, B_Y_N10A3_L),
                  ("n10a3", ASY_COL[3], B_TH_N10A3, B_Y_N10A3),
                  ("n10a6", ASY_COL[4], B_TH_N10A6, B_Y_N10A6)],
                 (B_TH_DYN, B_Y_DYN), DYN_ASY_COL, "dyn. ejecta @ tₚₘ = 10ms (asy)", "(b)", 296, 414, 421, 461.6)

pc = panel_L(SYM, SYM_COL, [C_ALL_N1A6, C_ALL_N05A3, C_ALL_N05A6, C_ALL_N10A3, C_ALL_N10A6],
             [C_PI4_N1A6, C_PI4_N05A3, C_PI4_N05A6, C_PI4_N10A3, C_PI4_N10A6],
             [C_HEAT_N1A6, C_HEAT_N05A3, C_HEAT_N05A6, C_HEAT_N10A3, C_HEAT_N10A6], C_NDW_T, C_NDW_L, "(c)")
pd_ = panel_L(ASY, ASY_COL, [D_ALL_N1A6, D_ALL_N05A3, D_ALL_N05A6, D_ALL_N10A3, D_ALL_N10A6],
              [D_PI4_N1A6, D_PI4_N05A3, D_PI4_N05A6, D_PI4_N10A3, D_PI4_N10A6],
              [D_HEAT_N1A6, D_HEAT_N05A3, D_HEAT_N05A6, D_HEAT_N10A3, D_HEAT_N10A6], D_NDW_T, D_NDW_L, "(d)")

pe = panel_T(SYM_COL,
             [(E_T_ALL_N1A6, E_V_ALL_N1A6), (E_T_ALL_N05, E_V_ALL_N05A3), (E_T_ALL_N05, E_V_ALL_N05A6),
              (E_T_ALL_N10A3, E_V_ALL_N10A3), (E_T_ALL_N10A6, E_V_ALL_N10A6)],
             [(E_T_PI4_N1A6, E_V_PI4_N1A6), (E_T_PI4_N05, E_V_PI4_N05A3), (E_T_PI4_N05, E_V_PI4_N05A6),
              (E_T_PI4_N10, E_V_PI4_N10A3), (E_T_PI4_N10, E_V_PI4_N10A6)], "(e)")
pf = panel_T(ASY_COL,
             [(F_T_21, F_V_ALL_N1A6), (F_T_20, F_V_ALL_N05A3), (F_T_22, F_V_ALL_N05A6),
              (F_T_ALL_N10A3, F_V_ALL_N10A3), (F_T_21, F_V_ALL_N10A6)],
             [(F_T_21, F_V_PI4_N1A6), (F_T_20, F_V_PI4_N05A3), (F_T_21, F_V_PI4_N05A6),
              (F_T_PI4_N10A3, F_V_PI4_N10A3), (F_T_21, F_V_PI4_N10A6)], "(f)")

pg = panel_V(SYM_COL,
             [(G_T_ALL_N1A6, G_V_ALL_N1A6), (G_T_ALL_N05A3, G_V_ALL_N05A3), (G_T_ALL_N05A6, G_V_ALL_N05A6),
              (G_T_ALL_N10A3, G_V_ALL_N10A3), (G_T_ALL_N10A6, G_V_ALL_N10A6)],
             [(G_T_PI4_N1A6, G_V_PI4_N1A6), (G_T_PI4_N05A3, G_V_PI4_N05A3), (G_T_PI4_N05A6, G_V_PI4_N05A6),
              (G_T_PI4_N10A3, G_V_PI4_N10A3), (G_T_PI4_N10A6, G_V_PI4_N10A6)], "(g)")
ph = panel_V(ASY_COL,
             [(H_T_ALL_N1A6, H_V_ALL_N1A6), (H_T_ALL_N05A3, H_V_ALL_N05A3), (H_T_ALL_N05A6, H_V_ALL_N05A6),
              (H_T_ALL_N10A3, H_V_ALL_N10A3), (H_T_ALL_N10A6, H_V_ALL_N10A6)],
             [(H_T_PI4_N1A6, H_V_PI4_N1A6), (H_T_PI4_N05A3, H_V_PI4_N05A3), (H_T_PI4_N05A6, H_V_PI4_N05A6),
              (H_T_PI4_N10A3, H_V_PI4_N10A3), (H_T_PI4_N10A6, H_V_PI4_N10A6)], "(h)")

chart = alt.concat(pa, pb, pc, pd_, pe, pf, pg, ph, columns=2, spacing={"row": 0, "column": 27},
                   align="each").properties(
    padding={"left": 0, "top": 0, "right": 5, "bottom": 0}, background="white"
).configure_view(stroke="black", strokeWidth=1)

chart.save("out.html", embed_options={"renderer": "svg", "actions": False})
